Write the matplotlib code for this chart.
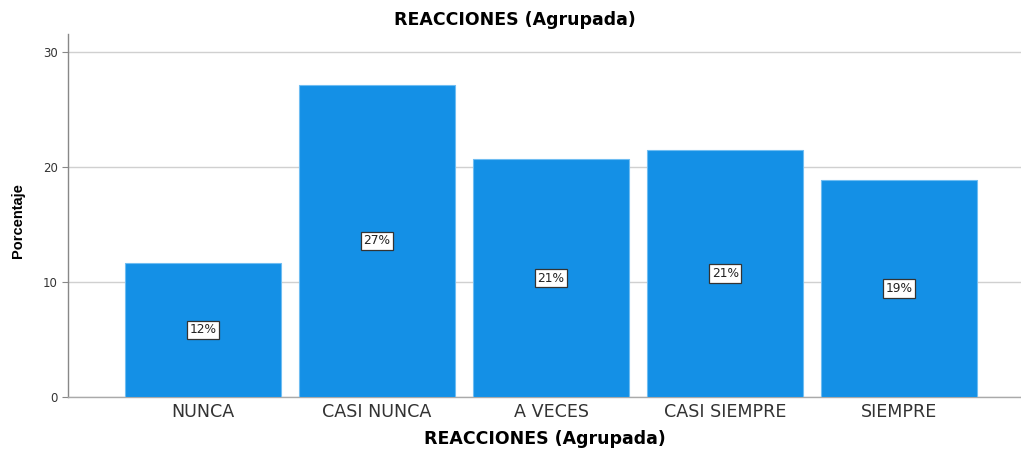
import matplotlib
matplotlib.use("Agg")
import matplotlib.pyplot as plt

categories = ["NUNCA", "CASI NUNCA", "A VECES", "CASI SIEMPRE", "SIEMPRE"]
values = [11.7, 27.2, 20.7, 21.5, 18.9]
labels = ["12%", "27%", "21%", "21%", "19%"]
yticks = [0, 10, 20, 30]

plt.rcParams['font.family'] = ['DejaVu Sans']

fig = plt.figure(figsize=(10.21, 4.49), dpi=100)
ax = fig.add_axes([68/1021, 1-397/449, (1021-68)/1021, (397-34)/449])

x = list(range(len(categories)))
bars = ax.bar(x, values, width=0.897, color="#1490E6", edgecolor="#6FBDF2", linewidth=0.8, zorder=3)
for xi, v, lab in zip(x, values, labels):
    ax.text(xi, v/2, lab, ha="center", va="center", fontsize=8.8, color="#222222", zorder=4,
            bbox=dict(boxstyle="square,pad=0.22", facecolor="white", edgecolor="#333333", linewidth=0.9))

ax.set_xlim(-0.776, 4.70)
ax.set_ylim(0, 31.6)
ax.set_yticks(yticks)
ax.set_xticks(x)
ax.set_xticklabels(categories, fontsize=12.6, color="#333333")
ax.tick_params(axis="y", labelsize=8.5, colors="#333333", length=4, color="#888888")
ax.tick_params(axis="x", length=0, pad=4)
ax.grid(axis="y", color="#d0d0d0", linewidth=1, zorder=0)
for s in ["top", "right"]:
    ax.spines[s].set_visible(False)
ax.spines["left"].set_color("#888888")
ax.spines["bottom"].set_color("#aaaaaa")
ax.spines["left"].set_linewidth(1)
ax.spines["bottom"].set_linewidth(1)

ax.set_xlabel("REACCIONES (Agrupada)", fontsize=12.5, fontweight="bold", labelpad=7)
ax.set_ylabel("Porcentaje", fontsize=10.5, fontweight="bold",
              family=["Liberation Sans Narrow", "Liberation Sans", "DejaVu Sans"])
ax.yaxis.set_label_coords(-0.045, 0.485)
fig.text(515/1021, 1-20/449, "REACCIONES (Agrupada)", ha="center", va="center", fontsize=12.5, fontweight="bold")

fig.savefig("out.png", dpi=100)
